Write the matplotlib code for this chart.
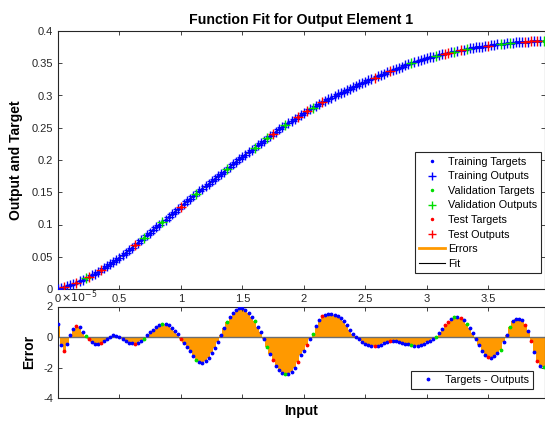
import numpy as np
import matplotlib
matplotlib.use('Agg')
import matplotlib.pyplot as plt
from matplotlib.lines import Line2D

plt.rcParams['font.family'] = ['Liberation Sans', 'DejaVu Sans']

# Шаг входной сетки
step = 0.025

# Целевые значения (159 точек, вход от 0 до 3.95)
targets = [
    0.0, 0.0013, 0.0028, 0.0043, 0.006, 0.0078, 0.0097, 0.0118,
    0.014, 0.0163, 0.0187, 0.0213, 0.0239, 0.0267, 0.0295, 0.0325,
    0.0355, 0.0387, 0.0419, 0.0453, 0.0487, 0.0524, 0.0561, 0.0599,
    0.0637, 0.0676, 0.0715, 0.0754, 0.0794, 0.0834, 0.0874, 0.0915,
    0.0955, 0.0996, 0.1036, 0.1077, 0.1117, 0.1158, 0.1198, 0.1239,
    0.1279, 0.1318, 0.1357, 0.1396, 0.1435, 0.1474, 0.1513, 0.1552,
    0.1591, 0.163, 0.1669, 0.1707, 0.1745, 0.1783, 0.1821, 0.1859,
    0.1897, 0.1935, 0.1972, 0.2009, 0.2046, 0.2083, 0.212, 0.2157,
    0.2193, 0.2229, 0.2265, 0.2301, 0.2336, 0.2371, 0.2406, 0.244,
    0.2474, 0.2507, 0.254, 0.2572, 0.2604, 0.2636, 0.2667, 0.2698,
    0.2728, 0.2757, 0.2785, 0.2812, 0.2839, 0.2866, 0.2892, 0.2918,
    0.2943, 0.2968, 0.2992, 0.3016, 0.3039, 0.3062, 0.3085, 0.3107,
    0.3129, 0.3151, 0.3173, 0.3195, 0.3216, 0.3237, 0.3258, 0.3278,
    0.3298, 0.3318, 0.3338, 0.3357, 0.3376, 0.3395, 0.3413, 0.3431,
    0.3449, 0.3466, 0.3483, 0.35, 0.3516, 0.3532, 0.3547, 0.3562,
    0.3577, 0.359, 0.3603, 0.3615, 0.3627, 0.3639, 0.365, 0.3661,
    0.3672, 0.3682, 0.3692, 0.3702, 0.3711, 0.372, 0.3729, 0.3737,
    0.3745, 0.3752, 0.3759, 0.3766, 0.3773, 0.378, 0.3786, 0.3792,
    0.3798, 0.3804, 0.3809, 0.3814, 0.3818, 0.3822, 0.3826, 0.383,
    0.3833, 0.3836, 0.3838, 0.384, 0.3842, 0.3843, 0.3844,
]

# Ошибки (targets - outputs), в единицах 1e-5
errors = [
    0.85, -0.5, -0.95, -0.45, 0.12, 0.5, 0.7, 0.66,
    0.35, 0.08, -0.13, -0.32, -0.46, -0.46, -0.38, -0.26,
    -0.11, 0.02, 0.1, 0.09, 0.01, -0.14, -0.27, -0.38,
    -0.42, -0.44, -0.4, -0.28, -0.13, 0.11, 0.3, 0.47,
    0.64, 0.77, 0.86, 0.84, 0.76, 0.62, 0.42, 0.18,
    -0.12, -0.38, -0.66, -0.94, -1.23, -1.52, -1.65, -1.68,
    -1.57, -1.37, -1.06, -0.74, -0.32, 0.14, 0.62, 0.98,
    1.31, 1.6, 1.78, 1.87, 1.87, 1.77, 1.6, 1.33,
    1.02, 0.68, 0.31, -0.13, -0.67, -1.1, -1.5, -1.88,
    -2.17, -2.37, -2.45, -2.43, -2.3, -2.02, -1.62, -1.2,
    -0.9, -0.5, -0.12, 0.2, 0.75, 1.12, 1.35, 1.45,
    1.5, 1.52, 1.46, 1.39, 1.24, 1.04, 0.78, 0.48,
    0.21, 0.03, -0.12, -0.31, -0.43, -0.5, -0.57, -0.61,
    -0.58, -0.51, -0.42, -0.34, -0.27, -0.26, -0.27, -0.32,
    -0.37, -0.43, -0.48, -0.53, -0.57, -0.56, -0.51, -0.44,
    -0.36, -0.27, -0.15, 0.02, 0.28, 0.55, 0.8, 1.0,
    1.18, 1.28, 1.31, 1.25, 1.09, 0.84, 0.59, 0.26,
    -0.1, -0.53, -0.93, -1.21, -1.33, -1.35, -1.25, -1.07,
    -0.83, -0.34, 0.14, 0.66, 1.05, 1.19, 1.21, 1.1,
    0.8, 0.38, -0.28, -0.98, -1.55, -1.87, -1.97,
]

# Индексы точек валидационной и тестовой выборок
val_idx = [9, 28, 34, 45, 55, 64, 68, 74, 83, 115, 123, 129, 133, 144, 147, 158]
test_idx = [2, 6, 10, 14, 25, 40, 70, 78, 81, 86, 103, 108, 126, 127, 131, 140, 152, 154, 156]

targets = np.array(targets)
errors = np.array(errors)
inputs = np.arange(len(targets)) * step
outputs = targets - errors * 1e-5

n = len(targets)
train_mask = np.ones(n, dtype=bool)
train_mask[val_idx] = False
train_mask[test_idx] = False
val_mask = np.zeros(n, dtype=bool)
val_mask[val_idx] = True
test_mask = np.zeros(n, dtype=bool)
test_mask[test_idx] = True

W, H = 545, 421
fig = plt.figure(figsize=(W / 100, H / 100), dpi=100)
ax1 = fig.add_axes([58 / W, (H - 289) / H, 487 / W, 258 / H])
ax2 = fig.add_axes([58 / W, (H - 398) / H, 487 / W, 91.5 / H])

orange = '#ff9900'
grey = '#262626'
green = '#00dd00'
sets = [(train_mask, 'b'), (val_mask, green), (test_mask, 'r')]

# Верхний график: цели, выходы и аппроксимация
ax1.plot(inputs, outputs, color='k', lw=0.6, zorder=1)
for mask, c in sets:
    ax1.plot(inputs[mask], targets[mask], '.', color=c, ms=3, zorder=2)
    ax1.plot(inputs[mask], outputs[mask], '+', color=c, ms=6.5, mew=1, zorder=3)

ax1.set_xlim(0, 3.962)
ax1.set_ylim(0, 0.4)
ax1.set_xticks([0, 0.5, 1, 1.5, 2, 2.5, 3, 3.5])
ax1.set_xticklabels(['0', '0.5', '1', '1.5', '2', '2.5', '3', '3.5'])
ax1.set_yticks(np.arange(0, 0.41, 0.05))
ax1.set_yticklabels(['0', '0.05', '0.1', '0.15', '0.2', '0.25', '0.3', '0.35', '0.4'])
ax1.set_ylabel('Output and Target', fontsize=10, fontweight='bold', labelpad=6)
ax1.set_title('Function Fit for Output Element 1', fontsize=10.2, fontweight='bold', pad=5)

handles = [
    Line2D([], [], ls='none', marker='.', ms=3, color='b'),
    Line2D([], [], ls='none', marker='+', ms=6, color='b'),
    Line2D([], [], ls='none', marker='.', ms=3, color=green),
    Line2D([], [], ls='none', marker='+', ms=6, color=green),
    Line2D([], [], ls='none', marker='.', ms=3, color='r'),
    Line2D([], [], ls='none', marker='+', ms=6, color='r'),
    Line2D([], [], color=orange, lw=2),
    Line2D([], [], color='k', lw=0.8),
]
labels = ['Training Targets', 'Training Outputs', 'Validation Targets',
          'Validation Outputs', 'Test Targets', 'Test Outputs', 'Errors', 'Fit']
leg = ax1.legend(handles, labels, loc='lower right', bbox_to_anchor=(0.992, 0.062),
                 borderaxespad=0, fontsize=7.8, fancybox=False, framealpha=1,
                 edgecolor=grey, handlelength=2.4, labelspacing=0.42,
                 handletextpad=0.2, borderpad=0.4)
leg.get_frame().set_linewidth(0.8)

# Нижний график: ошибки
ax2.bar(inputs, errors, width=step, color=orange, linewidth=0, zorder=1)
ax2.axhline(0, color='#6e6e6e', lw=1, zorder=2)
for mask, c in sets:
    ax2.plot(inputs[mask], errors[mask], '.', color=c, ms=3.5, zorder=3)
ax2.set_xlim(0, 3.962)
ax2.set_ylim(-4, 2)
ax2.set_xticks([0, 0.5, 1, 1.5, 2, 2.5, 3, 3.5])
ax2.set_xticklabels([])
ax2.set_yticks([-4, -2, 0, 2])
ax2.set_yticklabels(['-4', '-2', '0', '2'])
ax2.set_ylabel('Error', fontsize=10, fontweight='bold', labelpad=5)
ax2.set_xlabel('Input', fontsize=10, fontweight='bold', labelpad=1)
eleg = ax2.legend([Line2D([], [], ls='none', marker='.', ms=3.5, color='b')],
                  ['Targets - Outputs'], loc='lower right',
                  bbox_to_anchor=(0.975, 0.098), borderaxespad=0, fontsize=7.8,
                  fancybox=False, framealpha=1, edgecolor=grey, handlelength=2.4,
                  handletextpad=0.4, borderpad=0.35)
eleg.get_frame().set_linewidth(0.8)
fig.text(61 / W, 1 - 297 / H, r'$\times10^{-5}$', fontsize=8, color=grey,
         ha='left', va='center')

for ax in (ax1, ax2):
    ax.tick_params(direction='in', top=True, right=True, labelsize=8,
                   colors=grey, length=3, width=0.6)
    for s in ax.spines.values():
        s.set_color(grey)
        s.set_linewidth(0.8)

fig.savefig('out.png', dpi=100)
